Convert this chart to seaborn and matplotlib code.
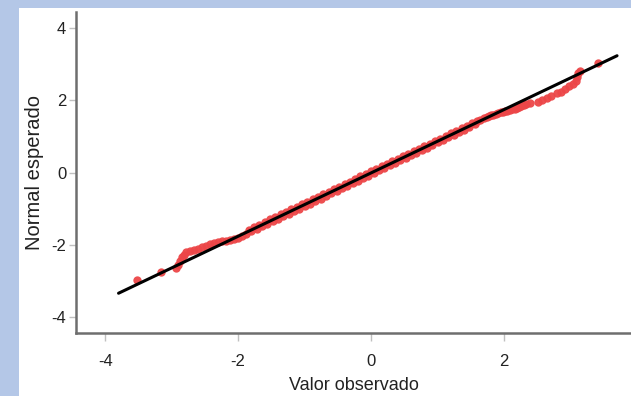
import matplotlib
matplotlib.use("Agg")
import matplotlib.pyplot as plt
import seaborn as sns
import pandas as pd
from matplotlib.patches import Rectangle

lower_obs = [
    -3.52, -3.16, -2.93, -2.90, -2.88, -2.85, -2.82, -2.78, -2.72, -2.66,
    -2.60, -2.54, -2.48, -2.42, -2.36, -2.30, -2.24, -2.18, -2.12, -2.06,
    -2.00, -1.94, -1.88,
]
lower_exp = [
    -2.98, -2.76, -2.64, -2.55, -2.45, -2.35, -2.28, -2.20, -2.17, -2.14,
    -2.12, -2.07, -2.02, -1.98, -1.95, -1.92, -1.90, -1.89, -1.87, -1.84,
    -1.81, -1.75, -1.69,
]
middle_obs = [
    -1.84, -1.80, -1.76, -1.72, -1.68, -1.64, -1.60, -1.56, -1.52, -1.48,
    -1.44, -1.40, -1.36, -1.32, -1.28, -1.24, -1.20, -1.16, -1.12, -1.08,
    -1.04, -1.00, -0.96, -0.92, -0.88, -0.84, -0.80, -0.76, -0.72, -0.68,
    -0.64, -0.60, -0.56, -0.52, -0.48, -0.44, -0.40, -0.36, -0.32, -0.28,
    -0.24, -0.20, -0.16, -0.12, -0.08, -0.04, 0.00, 0.04, 0.08, 0.12,
    0.16, 0.20, 0.24, 0.28, 0.32, 0.36, 0.40, 0.44, 0.48, 0.52,
    0.56, 0.60, 0.64, 0.68, 0.72, 0.76, 0.80, 0.84, 0.88, 0.92,
    0.96, 1.00, 1.04, 1.08, 1.12, 1.16, 1.20, 1.24, 1.28, 1.32,
    1.36, 1.40, 1.44, 1.48, 1.52, 1.56, 1.60, 1.64,
]
middle_exp = [
    -1.58, -1.63, -1.51, -1.56, -1.44, -1.49, -1.37, -1.42, -1.30, -1.35,
    -1.23, -1.28, -1.16, -1.21, -1.09, -1.14, -1.02, -1.07, -0.95, -1.00,
    -0.88, -0.93, -0.81, -0.86, -0.74, -0.79, -0.67, -0.72, -0.60, -0.65,
    -0.53, -0.58, -0.46, -0.51, -0.39, -0.44, -0.32, -0.37, -0.25, -0.30,
    -0.18, -0.23, -0.11, -0.16, -0.04, -0.09, 0.03, -0.02, 0.10, 0.06,
    0.17, 0.13, 0.24, 0.20, 0.31, 0.27, 0.38, 0.34, 0.45, 0.41,
    0.52, 0.48, 0.59, 0.55, 0.66, 0.62, 0.73, 0.69, 0.80, 0.76,
    0.87, 0.83, 0.94, 0.90, 1.01, 0.97, 1.08, 1.04, 1.15, 1.11,
    1.22, 1.18, 1.29, 1.25, 1.36, 1.33, 1.43, 1.46,
]
upper_obs = [
    1.70, 1.74, 1.77, 1.81, 1.84, 1.88, 1.91, 1.95, 1.98, 2.02,
    2.05, 2.09, 2.12, 2.16, 2.19, 2.23, 2.26, 2.30, 2.33, 2.39,
    2.51, 2.57, 2.64, 2.71, 2.79, 2.85, 2.91, 2.97, 3.03, 3.08,
    3.10, 3.12, 3.14, 3.41,
]
upper_exp = [
    1.52, 1.54, 1.56, 1.58, 1.60, 1.62, 1.64, 1.66, 1.68, 1.70,
    1.71, 1.73, 1.75, 1.77, 1.79, 1.82, 1.84, 1.87, 1.89, 1.93,
    1.95, 2.00, 2.05, 2.12, 2.19, 2.22, 2.30, 2.38, 2.45, 2.53,
    2.65, 2.75, 2.82, 3.03,
]
# Reference line endpoints
line_x = [-3.80, 3.70]
line_y = [-3.34, 3.23]

x_ticks = [-4, -2, 0, 2]
y_ticks = [-4, -2, 0, 2, 4]
x_label = "Valor observado"
y_label = "Normal esperado"

sns.set_theme(style="white")
plt.rcParams["font.family"] = ["Liberation Sans", "DejaVu Sans"]

fig = plt.figure(figsize=(6.31, 3.96), dpi=100, facecolor="#b4c7e7")
bg = Rectangle((19 / 631, 0), 1 - 19 / 631, 1 - 8 / 396,
               transform=fig.transFigure, facecolor="white",
               edgecolor="none", zorder=-10)
fig.patches.append(bg)
ax = fig.add_axes([76 / 631, 63 / 396, 1 - 76 / 631, 321 / 396])
ax.set_zorder(5)
ax.set_facecolor("white")

df = pd.DataFrame({"obs": lower_obs + middle_obs + upper_obs,
                   "exp": lower_exp + middle_exp + upper_exp})
sns.scatterplot(data=df, x="obs", y="exp", ax=ax, color="#ec4648",
                s=36, linewidth=0, alpha=0.95, zorder=2)
sns.lineplot(x=line_x, y=line_y, ax=ax, color="black", linewidth=2.2,
             zorder=3)

ax.set_xlim(-4.44, 3.91)
ax.set_ylim(-4.44, 4.44)
ax.set_xticks(x_ticks)
ax.set_yticks(y_ticks)
ax.set_xticklabels([str(t) for t in x_ticks])
ax.set_yticklabels([str(t) for t in y_ticks])
ax.tick_params(axis="x", which="major", direction="out", length=6,
               width=1, color="#c0c0c0", labelsize=12, labelcolor="#222222",
               pad=9, bottom=True)
ax.tick_params(axis="y", which="major", direction="out", length=5,
               width=1, color="#c0c0c0", labelsize=12, labelcolor="#222222",
               pad=2, left=True)
ax.set_xlabel(x_label, fontsize=13, color="#222222", labelpad=6)
ax.set_ylabel(y_label, fontsize=14.5, color="#222222", labelpad=5)

for side in ["top", "right"]:
    ax.spines[side].set_visible(False)
for side in ["left", "bottom"]:
    ax.spines[side].set_color("#6e6e6e")
    ax.spines[side].set_linewidth(1.8)

fig.savefig("out.png", dpi=100, facecolor=fig.get_facecolor())
